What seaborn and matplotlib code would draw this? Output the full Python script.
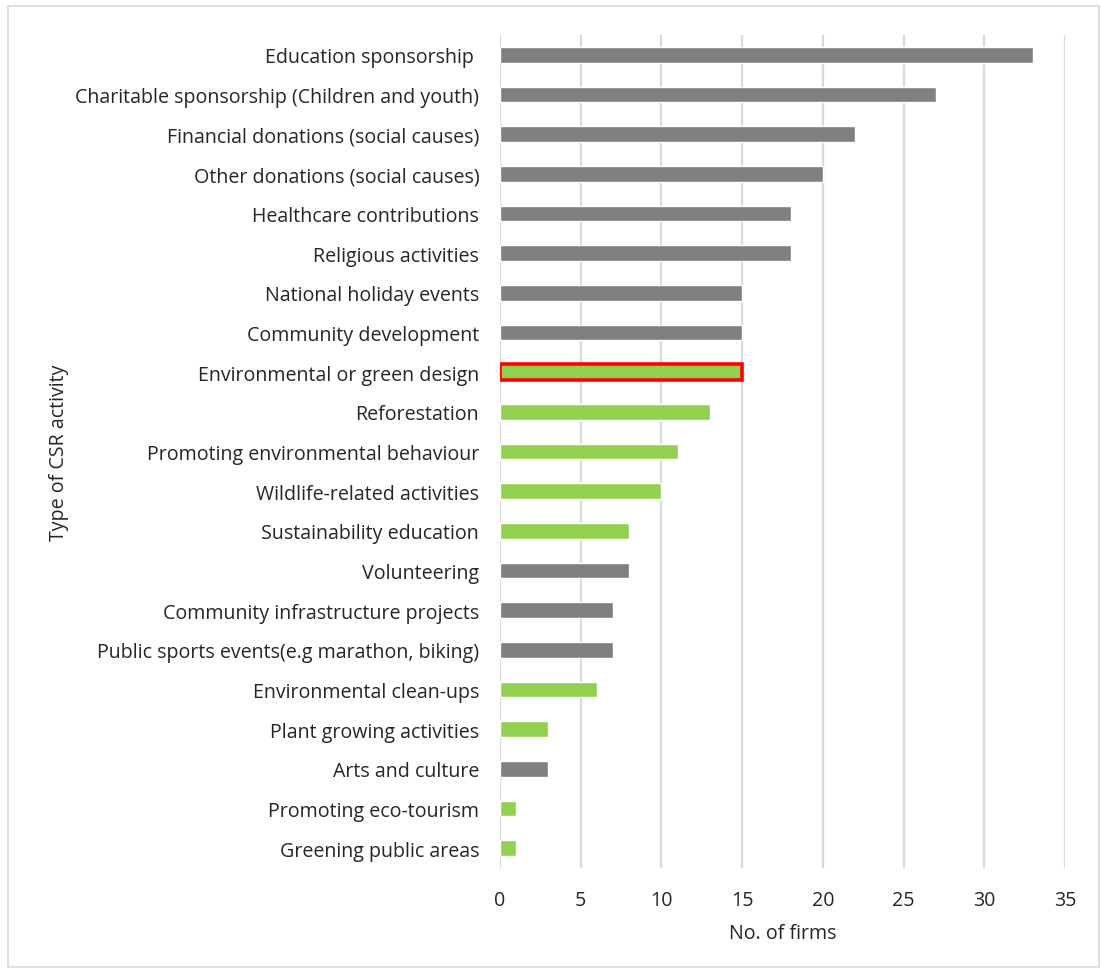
import matplotlib
matplotlib.use("Agg")
import matplotlib.pyplot as plt
import matplotlib.patches as mpatches
import seaborn as sns
import pandas as pd

activities = [
    "Education sponsorship ",
    "Charitable sponsorship (Children and youth)",
    "Financial donations (social causes)",
    "Other donations (social causes)",
    "Healthcare contributions",
    "Religious activities",
    "National holiday events",
    "Community development",
    "Environmental or green design",
    "Reforestation",
    "Promoting environmental behaviour",
    "Wildlife-related activities",
    "Sustainability education",
    "Volunteering",
    "Community infrastructure projects",
    "Public sports events(e.g marathon, biking)",
    "Environmental clean-ups",
    "Plant growing activities",
    "Arts and culture",
    "Promoting eco-tourism",
    "Greening public areas",
]
firms = [33, 27, 22, 20, 18, 18, 15, 15, 15, 13, 11, 10, 8, 8, 7, 7, 6, 3, 3, 1, 1]
kind = ["Social", "Social", "Social", "Social", "Social", "Social", "Social", "Social",
        "Environmental", "Environmental", "Environmental", "Environmental", "Environmental",
        "Social", "Social", "Social", "Environmental", "Environmental", "Social",
        "Environmental", "Environmental"]
highlight = "Environmental or green design"
x_ticks = [0, 5, 10, 15, 20, 25, 30, 35]

df = pd.DataFrame({"activity": activities, "firms": firms, "kind": kind})
palette = {"Social": "#808080", "Environmental": "#92d050"}

sns.set_theme(style="white")
plt.rcParams["font.family"] = ["Open Sans", "DejaVu Sans"]

fig = plt.figure(figsize=(11.01, 9.70), dpi=100)
ax = fig.add_axes([500 / 1101, 1 - 869 / 970, 565 / 1101, 833 / 970])

sns.barplot(data=df, y="activity", x="firms", hue="kind", palette=palette,
            order=activities, orient="h", width=0.40, dodge=False,
            legend=False, saturation=1, ax=ax, zorder=3)

# outline the highlighted category
for bar, name in zip(
        sorted([p for p in ax.patches if p.get_height() > 0], key=lambda p: p.get_y()),
        activities):
    if name == highlight:
        bar.set_edgecolor("#ff0000")
        bar.set_linewidth(2.6)

text_color = "#262626"
fs = 14.1
ax.set_xlim(0, 35)
ax.set_ylim(len(activities) - 0.5, -0.5)
ax.set_xticks(x_ticks)
ax.grid(axis="x", color="#d9d9d9", linewidth=1.6, zorder=0)
ax.grid(axis="y", visible=False)
for s in ax.spines.values():
    s.set_visible(False)
ax.tick_params(axis="both", length=0, labelsize=fs, colors=text_color)
ax.tick_params(axis="y", pad=15)
ax.tick_params(axis="x", pad=16)
ax.set_ylabel("Type of CSR activity", fontsize=fs, color=text_color, labelpad=0)
ax.set_xlabel("No. of firms", fontsize=fs, color=text_color, labelpad=9)
ax.yaxis.set_label_coords(-0.762, 0.5)

# light frame around the whole chart
fig.patches.append(mpatches.Rectangle((8 / 1101, 2 / 970), 1091 / 1101, 961 / 970,
                                      transform=fig.transFigure, fill=False,
                                      edgecolor="#d9d9d9", linewidth=1.2))

fig.savefig("out.png", dpi=100)
